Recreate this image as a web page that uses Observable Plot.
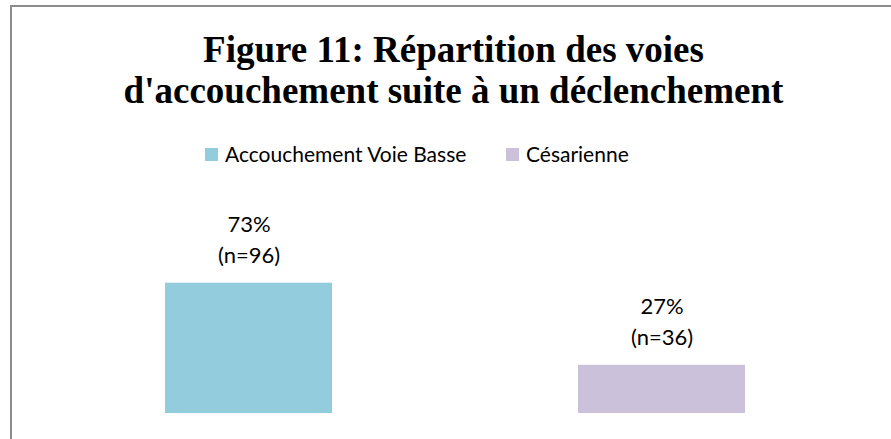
<!DOCTYPE html>
<html>
<head>
<meta charset="utf-8">
<script src="https://cdn.jsdelivr.net/npm/d3@7"></script>
<script src="https://cdn.jsdelivr.net/npm/@observablehq/plot@0.6"></script>
<style>
  html, body { margin: 0; padding: 0; background: #fff; width: 891px; height: 439px; overflow: hidden; }
  #frame { position: absolute; left: 10px; top: 5px; width: 960px; height: 600px;
           border-top: 2px solid #8c8c8c; border-left: 2px solid #8c8c8c; }
  #title { position: absolute; left: 0; width: 907px; top: 29px; text-align: center;
           font-family: "Liberation Serif", "Times New Roman", serif; font-weight: bold;
           font-size: 37px; line-height: 41px; color: #000; white-space: nowrap; }
  .leg { position: absolute; top: 144px; font-family: Lato, "Open Sans", sans-serif; font-size: 21px;
         line-height: 20px; color: #000; white-space: nowrap; display: flex; align-items: center; }
  .sw { width: 13px; height: 13px; margin-right: 7px; display: inline-block; }
  #chart { position: absolute; left: 0; top: 180px; }
</style>
</head>
<body>
<div id="frame"></div>
<div id="title">Figure 11: Répartition des voies<br>d'accouchement suite à un déclenchement</div>
<div id="legend"></div>
<div id="chart"></div>
<script>
const categories = ["Accouchement Voie Basse", "Césarienne"];
const percents = [73, 27];
const counts = [96, 36];
const colors = ["#93CDDD", "#CCC1DA"];
const legendLeft = [205, 506];

const data = categories.map((c, i) => ({
  category: c,
  pct: percents[i],
  n: counts[i],
  label: `${percents[i]}%\n(n=${counts[i]})`
}));

const legend = document.getElementById("legend");
categories.forEach((c, i) => {
  const d = document.createElement("div");
  d.className = "leg";
  d.style.left = legendLeft[i] + "px";
  d.innerHTML = `<span class="sw" style="background:${colors[i]}"></span><span>${c}</span>`;
  legend.appendChild(d);
});

const chart = Plot.plot({
  width: 891,
  height: 259,
  marginLeft: 41.75,
  marginRight: 22.25,
  marginTop: 54.5,
  marginBottom: 26,
  x: { domain: categories, paddingInner: 0.596, paddingOuter: 0.298, axis: null },
  y: { domain: [0, 100], axis: null },
  color: { domain: categories, range: colors },
  marks: [
    Plot.barY(data, { x: "category", y: "pct", fill: "category" }),
    Plot.text(data, {
      x: "category", y: "pct", text: "label",
      lineAnchor: "bottom", dy: -20, lineHeight: 1.41,
      fontSize: 22, fontFamily: "Lato, 'Open Sans', sans-serif", fill: "#000"
    })
  ]
});
document.getElementById("chart").appendChild(chart);
</script>
</body>
</html>
